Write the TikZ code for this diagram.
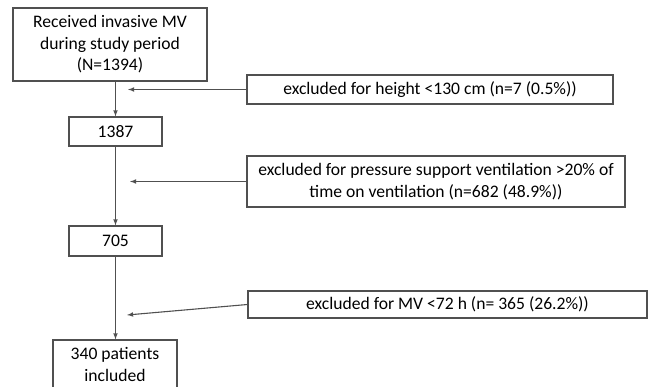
\documentclass[tikz,border=0pt]{standalone}
\usepackage{fontspec}
\setmainfont{Carlito}
\usepackage{xcolor}
\usetikzlibrary{arrows}
\tikzset{>=latex}
\definecolor{boxgray}{RGB}{80,80,80}
\tikzset{
	box/.style={draw=boxgray, line width=1.2pt, align=center, inner sep=0pt,
		font=\fontsize{17.6}{21.5}\selectfont},
	link/.style={->, line width=1.1pt, draw=boxgray}
}

\begin{document}
\begin{tikzpicture}[x=1pt, y=-1pt]
	\useasboundingbox (0,0) rectangle (648,386);
	\clip (0,0) rectangle (648,386);

	%% Main boxes
	\node[box, minimum width=194pt, minimum height=73pt] (recv) at (110,44.5)
	{Received invasive MV\\during study period\\(N=1394)};
	\node[box, minimum width=93pt, minimum height=29pt] (n1387) at (115.5,131.5) {1387};
	\node[box, minimum width=93pt, minimum height=30pt] (n705) at (115.5,241) {705};
	\node[box, minimum width=124pt, minimum height=49pt] (incl) at (115,364.5)
	{340 patients\\included};

	%% Exclusion boxes
	\node[box, minimum width=366pt, minimum height=29pt] (ex1) at (430,89.5)
	{excluded for height <130 cm (n=7 (0.5\%))};
	\node[box, minimum width=378pt, minimum height=51pt] (ex2) at (436,181.5)
	{excluded for pressure support ventilation >20\% of\\time on ventilation (n=682 (48.9\%))};
	\node[box, minimum width=399pt, minimum height=27pt] (ex3) at (447.5,304.5)
	{excluded for MV <72 h (n= 365 (26.2\%))};

	%% Flow
	\draw[link] (n1387.north |- recv.south) -- (n1387.north);
	\draw[link] (n1387.south) -- (n705.north);
	\draw[link] (n705.south) -- (incl.north -| n705.south);

	%% Exclusion arrows
	\coordinate (t1) at (128,89.5);
	\coordinate (t2) at (130,181.5);
	\coordinate (t3) at (127,315);
	\draw[link] (ex1.west) -- (t1);
	\draw[link] (ex2.west) -- (t2);
	\draw[link] (ex3.west) -- (t3);

\end{tikzpicture}
\end{document}
